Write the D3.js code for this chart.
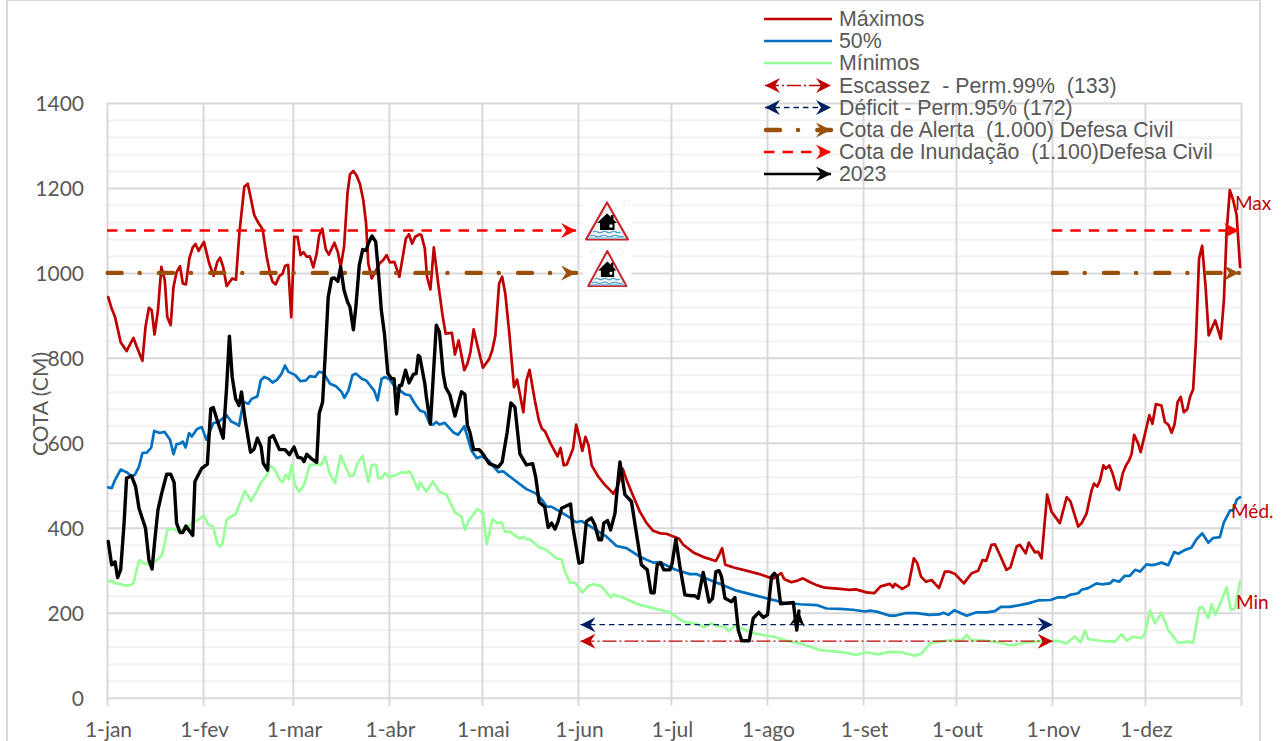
<!DOCTYPE html>
<html><head><meta charset="utf-8">
<script src="https://cdn.jsdelivr.net/npm/d3@7"></script>
<style>html,body{margin:0;padding:0;background:#fff}svg{display:block}</style>
</head><body><svg id="c" width="1281" height="741"></svg>
<script>
const monthLabels=["1-jan","1-fev","1-mar","1-abr","1-mai","1-jun","1-jul","1-ago","1-set","1-out","1-nov","1-dez",""];
const monthStarts=[0,31,60,91,121,152,182,213,244,274,305,335,366];
const majorTicks=[0,200,400,600,800,1000,1200,1400];
const minorTicks=[40,80,120,160,240,280,320,360,440,480,520,560,640,680,720,760,840,880,920,960,1040,1080,1120,1160,1240,1280,1320,1360];

const maxDays=[0.4,1.5,2.6,4.4,6.3,8.5,9.8,11.4,12.4,13.5,14.4,15.3,16.4,17.5,18.6,19.4,20.5,21.4,22.4,23.5,24.4,25.4,26.5,27.6,28.5,29.5,31.2,32.9,34.3,35.5,36.4,37.4,38.5,40.3,41.5,42.6,44.2,45.3,46.2,47.4,48.7,50.1,51.4,52.5,53.3,54.3,55.5,56.5,57.3,58.3,59.3,60.3,61.3,62.3,63.2,64.3,65.3,66.4,67.5,68.3,69.3,70.4,71.4,73.2,74.3,75.2,76.3,77.4,78.2,79.3,80.3,81.4,82.5,83.4,84.1,85.2,86.3,87.7,89,90,91,92.5,94.1,95.2,96.2,97.2,98.2,99.2,100.7,101.2,102.3,103,104.1,105.2,106.6,108,109,111,112,113.2,115,116,117,118,119.6,121,123,124,125,126.2,127.2,128.2,129.5,131,132,134,135,136,137.7,139,140,141,142.8,145,146,147,148,150,151,152,153,154,155,156,158,160,162,163,164.5,166,167.2,169.4,171.5,173.7,175.8,178,180,184,185.5,188.7,192,196,197,198,199,202,206.4,210,214.4,217,218,220.3,222,224,226,228.4,231,236,239,241,244.5,247,249,252,253,253.6,256,258,259.7,260.8,262,263.6,265.4,267.8,269.7,271,273,275.8,278.3,280.4,281.8,283,284.7,285.8,287.4,289.5,290.8,292.8,293.8,295.7,296.7,298.7,299.7,300.8,302.6,304,306.7,308.9,310.1,312.6,313.7,315.3,316.9,317.7,318.7,319.6,320.7,321.5,322.6,323.7,325,325.8,326.9,328,329,329.8,330.6,331.9,332.7,335.5,336.5,337.6,339.4,340.5,341.6,342.7,343.6,344.6,345.6,346.6,347.7,348.6,349.6,350.5,351.5,352.5,353.6,354.6,356.7,358.5,359.5,360.4,361.4,362.5,363.6,364.7];
const maxValues=[943,916,896,837,816,847,822,793,873,918,912,855,912,1014,983,896,877,967,1002,1016,975,973,1034,1060,1068,1052,1073,1022,993,1026,1036,1014,969,987,984,1093,1203,1210,1179,1136,1118,1102,1038,998,979,973,993,998,1016,1019,896,1085,1085,1042,1049,1038,1039,1013,1046,1089,1104,1056,1043,1071,1049,1014,1061,1187,1232,1240,1230,1210,1171,1116,1022,987,1002,1022,1031,1042,1025,1026,991,1038,1081,1091,1069,1085,1091,1089,1057,991,961,1060,975,900,857,859,808,841,771,786,814,867,818,777,797,818,853,975,991,951,857,731,749,672,747,772,700,653,633,627,598,568,588,547,549,586,643,614,581,614,594,547,522,503,488,480,500,539,513,474,438,411,393,387,386,375,360,342,331,322,336,352,313,306,298,291,280,293,279,272,275,281,273,265,259,256,254,255,248,246,262,268,260,268,256,265,328,317,285,273,277,258,297,297,291,269,293,299,324,322,360,361,336,301,307,356,360,340,365,342,344,328,478,438,411,472,462,403,411,434,488,504,497,511,547,539,547,527,493,489,527,547,559,574,619,598,578,665,645,691,688,649,643,624,643,696,708,672,679,708,726,841,1034,1064,967,853,888,845,936,1100,1195,1171,1136,1014];

const medDays=[0.4,1.5,2.6,4.4,6.3,8,9,10.3,11.4,12.8,14.2,15.2,17,18.5,20.3,21.4,22.4,23.5,24.4,25.3,26.4,27.3,28.9,30.5,32,34.2,36,38.5,40,41.5,42.5,43.9,45.5,46.6,48.4,49.5,50.6,52,53.3,54.8,56.2,57.3,58.4,60.5,62.3,64,65.3,67,68.2,69.6,71.8,73.7,75.5,76.4,77.7,79,80.1,82,83.4,84.7,86,87.1,88.4,89.5,91,92.7,96,97.5,99.1,100.7,102.3,104,105,106,107,108.7,111.4,113,115,117.3,119,120.5,122.7,126,127.5,131,135,138,140,141.5,143,145.8,148.4,151,152.7,156.5,160.8,164,167.2,171.5,175.8,178,182.8,187.6,189.7,194,198.3,202.6,208,213.4,217.7,223,228.4,231.6,236,240,244,245.6,248,252,253.6,257,260.6,264.7,267.9,269.2,270.8,272.7,274.5,276.7,279.9,283.1,285.8,287.7,290.6,293.8,296.5,299.7,303.7,305.9,308.3,309.9,312.6,313.7,315.8,318.5,320.1,322.8,323.9,325.8,327.6,329.2,330.9,332.5,334.6,336.2,337.8,339.4,341.6,343.5,344.8,347,349,350.7,352.5,354.5,356,358.2,359.5,361.5,362.5,363.6,364.7];
const medValues=[495,493,513,537,531,521,525,544,576,577,588,628,623,626,607,573,597,598,603,589,623,615,632,637,607,646,650,665,650,645,640,696,692,704,709,747,755,751,742,749,763,782,767,760,745,747,757,755,767,765,739,733,720,706,723,759,763,751,747,735,723,700,751,755,749,731,714,712,692,676,672,643,643,649,643,647,625,619,639,582,564,568,559,531,533,513,491,481,466,450,450,438,427,413,416,399,379,357,352,332,318,319,302,291,291,277,265,252,242,232,224,220,218,210,209,207,203,205,202,193,193,199,199,195,196,200,195,206,200,193,201,201,204,214,214,218,222,229,230,236,236,242,246,254,258,269,267,269,277,273,287,287,301,297,314,312,314,318,312,343,339,348,353,373,387,365,376,378,413,441,441,466,472];

const minDays=[0.4,1.5,2.6,4.2,5.8,7.4,8.5,9.3,10.4,11.5,13.3,14.9,17.6,18.7,19.5,21.4,23,25.5,27.8,29.4,31.2,32.6,34.2,35.5,36.4,37.2,38.5,39.6,41.4,44.4,46.4,48.4,49.8,51.7,52.3,54,55.5,56.5,57.6,58.5,59.4,60.5,61.9,63.4,65.3,67,69,70.2,71.6,73.4,75.2,78.2,79.5,80.6,82.3,84.1,85.2,86.6,87.3,88.4,89.5,90.9,93.2,94.8,96.2,97.5,100.2,100.7,102.8,104.9,107,109.3,112,114.1,115.2,116.3,119.2,121,122.2,124.1,125.6,127,128.1,129.7,132.9,134,135,136.1,139.3,141,144.7,146.3,147.4,149,150.6,153,154.9,156.5,159.2,162.1,163.1,166.1,170.4,175.8,181.2,185.5,189.8,192.1,194.6,196.2,198.9,200,202.1,208,212.3,214.4,218.7,224,229.5,236,241.3,244.5,248.2,252,255.7,260,262.2,264.9,268.1,273.5,275.1,276.7,278,283.1,287.4,290.8,296,301.4,305.7,308.9,311.5,313.4,314.8,315.8,319.6,324.4,326.6,328.2,330.3,333,334.1,335.7,337.3,339.4,341.6,344.8,348,349.6,351.6,352.6,354.5,355.5,356.8,360.4,361.7,363,364.7];
const minValues=[273,275,269,268,264,265,269,293,324,317,314,317,334,368,397,397,391,395,415,419,429,407,403,362,356,364,419,425,432,487,463,489,509,526,547,537,514,507,525,514,548,501,485,501,548,550,548,568,530,505,570,521,525,552,569,507,548,548,517,517,529,519,525,531,529,533,489,507,485,509,485,478,436,426,395,415,444,436,361,420,411,413,391,391,374,379,373,373,353,350,328,326,297,271,271,248,263,267,262,236,242,236,221,211,201,179,174,166,175,169,167,156,170,152,146,144,134,126,112,108,101,107,102,108,107,99,104,128,132,137,134,148,136,134,130,123,130,134,134,128,144,130,158,138,134,132,149,134,144,140,152,206,175,200,159,129,132,129,212,213,187,220,195,260,206,210,273];

const y2023Days=[0.4,1.5,2.6,3.4,4.4,5.5,6.3,7.9,9.2,10.3,12.4,13.5,14.5,15.5,16.4,17.6,19.2,20.5,21.6,22.4,23.5,24.4,25.4,27.6,28.3,30.5,32.3,33.4,34.2,35.3,37.4,38.5,39.4,40.3,41.4,42.5,43.3,44.4,46.2,47.3,48.4,49.6,50.3,51.7,52.3,53.5,55.5,57.3,58.7,60.2,61.4,62.7,63.4,64.3,65.9,67.5,68.3,69.4,70.2,71.2,72.3,73.2,74.3,75.2,76.3,77.4,78.2,79.3,80.1,81.2,82.3,83.4,84.1,85.3,86.5,87.4,88.3,89.3,90.4,91.6,92.4,93.2,94.1,94.8,96.1,97.2,98.6,99.5,100.2,100.7,102.3,102.8,104.1,105,106,107,108.2,109,110.4,112,114.1,115.2,116,116.8,118,119.8,121,123,126,127.2,128.8,130,131.3,132.9,135,137,138,139.1,140.9,142,143.1,144.2,145.2,146.3,149.2,150,151.9,153,154.3,155.9,157,158.3,159.2,159.9,161.1,162.1,163.5,164.5,165.1,166.7,168.8,170.4,172,173.9,175.1,176.1,177.1,178.2,179.2,181.2,181.9,183.1,184.4,186,188.1,189.2,190.3,191.9,193.8,194.9,196,197,197.8,198.9,201,202.1,203.2,204.3,206.7,208,209.8,211.2,212.6,213.9,214.8,215.7,216.8,220.9,222,222.7];
const y2023Values=[368,313,320,283,301,411,517,522,497,446,399,324,303,379,442,481,526,526,507,411,389,389,404,382,509,540,550,680,683,657,611,731,851,755,704,688,720,657,578,585,611,591,552,536,611,617,584,584,572,590,566,564,556,573,562,554,669,696,802,943,987,988,980,1014,959,932,920,866,920,1018,1055,1053,1069,1087,1073,998,912,857,763,751,751,668,735,735,771,741,761,763,806,802,739,708,645,755,877,861,763,731,712,663,720,714,641,625,584,584,574,551,543,555,625,694,684,574,548,551,519,460,449,401,411,397,415,446,456,399,317,319,415,423,407,372,372,411,417,395,434,513,555,478,462,387,313,301,247,247,313,318,301,301,316,373,309,242,240,240,234,295,225,234,297,299,285,234,226,236,159,134,134,187,201,189,195,285,293,285,221,224,159,204];

const legendLabels=["Máximos","50%","Mínimos","Escassez  - Perm.99%  (133)","Déficit - Perm.95% (172)","Cota de Alerta  (1.000) Defesa Civil","Cota de Inundação  (1.100)Defesa Civil","2023"];
const endLabels=["Max","Méd.","Min"];
const endLabelValues=[1148,423,208];
const alertLevel=1000,floodLevel=1100,scarcityLevel=133,deficitLevel=172;

const RED="#C00000",BLUE="#0070C0",GREEN="#99FF99",NAVY="#002060",BROWN="#9A4F0B",FLOOD="#FF0000",GREY="#595959";
const svg=d3.select("#c");
const x=d3.scaleLinear().domain([0,365]).range([107,1241]);
const tickPos=monthStarts.map(d=>d*365/366);
const y=d3.scaleLinear().domain([0,1400]).range([697.7,103]);
const font="Lato, sans-serif";

// outer frame
svg.append("rect").attr("x",7).attr("y",0).attr("width",1253).attr("height",760).attr("fill","#fff").attr("stroke","#D9D9D9").attr("stroke-width",2);

// grid through axes
const plotW=x.range()[1]-x.range()[0],plotH=y.range()[0]-y.range()[1];
const gMinor=svg.append("g").attr("transform",`translate(107,0)`).call(d3.axisLeft(y).tickValues(minorTicks).tickSize(-plotW).tickFormat(""));
gMinor.select(".domain").remove();
gMinor.selectAll("line").attr("stroke","#F2F2F2").attr("stroke-width",2);
const gMajor=svg.append("g").attr("transform",`translate(107,0)`).call(d3.axisLeft(y).tickValues(majorTicks).tickFormat(d3.format("d")).tickSize(-plotW).tickPadding(23));
gMajor.select(".domain").remove();
gMajor.selectAll("line").attr("stroke","#D9D9D9").attr("stroke-width",2);
gMajor.selectAll("text").attr("font-family",font).attr("font-size",21).attr("fill",GREY).attr("dy",".36em");
const gV=svg.append("g").attr("transform",`translate(0,${y(0)})`).call(d3.axisBottom(x).tickValues(tickPos).tickFormat("").tickSize(-plotH));
gV.select(".domain").remove();
gV.selectAll("line").attr("stroke","#D9D9D9").attr("stroke-width",2);
const gX=svg.append("g").attr("transform",`translate(0,${y(0)})`).call(d3.axisBottom(x).tickValues(tickPos).tickFormat((d,i)=>monthLabels[i]).tickSize(8).tickPadding(16));
gX.select(".domain").remove();
gX.selectAll("line").attr("stroke","#D9D9D9").attr("stroke-width",2);
gX.selectAll("text").attr("font-family",font).attr("font-size",21).attr("fill",GREY).attr("dx",1);

svg.append("text").attr("transform","translate(47.5,404) rotate(-90)").attr("text-anchor","middle")
  .attr("font-family",font).attr("font-size",21).attr("fill",GREY).text("COTA (CM)");

// arrow markers
const defs=svg.append("defs");
function marker(id,color,rev){
  defs.append("marker").attr("id",id).attr("markerUnits","userSpaceOnUse").attr("viewBox","-16 -9 32 18")
    .attr("markerWidth",32).attr("markerHeight",18).attr("refX",0).attr("refY",0).attr("orient","auto")
    .append("path").attr("d",rev?"M0,0 L15,-7.5 L10,0 L15,7.5 Z":"M0,0 L-15,-7.5 L-10,0 L-15,7.5 Z").attr("fill",color);
}
[["r",RED],["n",NAVY],["b",BROWN],["f",FLOOD],["k","#000"]].forEach(([k,c])=>{marker("e"+k,c,false);marker("s"+k,c,true);});

// white boxes behind the alert icons
svg.append("rect").attr("x",583).attr("y",198).attr("width",48.5).attr("height",92).attr("fill","#fff");
// faint ghost handles of the pasted pictures
[[598,205,603,200],[589,253,596,248]].forEach(s=>svg.append("line").attr("x1",s[0]).attr("y1",s[1]).attr("x2",s[2]).attr("y2",s[3]).attr("stroke","#F4F4F4").attr("stroke-width",2));
[[627,203],[620,252]].forEach(s=>svg.append("circle").attr("cx",s[0]).attr("cy",s[1]).attr("r",3).attr("fill","none").attr("stroke","#F4F4F4").attr("stroke-width",1.5));

// series
const line=d3.line().x(d=>x(d[0])).y(d=>y(d[1])).curve(d3.curveLinear);
const zip=(a,b)=>a.map((d,i)=>[d,b[i]]);
const plot=(days,vals,color,w)=>svg.append("path").datum(zip(days,vals)).attr("d",line).attr("fill","none")
  .attr("stroke",color).attr("stroke-width",w).attr("stroke-linejoin","round").attr("stroke-linecap","round");
plot(maxDays,maxValues,RED,2.7);
plot(medDays,medValues,BLUE,2.7);
plot(minDays,minValues,GREEN,2.7);

// reference lines; day positions on the same 365-unit scale
const hline=(x0,x1,v,color,w,dash,mS,mE,cap)=>{
  const p=svg.append("path").datum([[x0,v],[x1,v]]).attr("d",line).attr("fill","none").attr("stroke",color)
    .attr("stroke-width",w).attr("stroke-dasharray",dash).attr("stroke-linecap",cap||"butt");
  if(mS)p.attr("marker-start",`url(#${mS})`);
  if(mE)p.attr("marker-end",`url(#${mE})`);
};
hline(152.4,304.4,scarcityLevel,RED,1.3,"14 3 2 3","sr","er");
hline(152.4,304.4,deficitLevel,NAVY,1.4,"5.5 4","sn","en");
const ALERT_DASH="14 18 .1 19.2";
hline(0.2,151,alertLevel,BROWN,4.4,ALERT_DASH,null,"eb","round");
hline(304.4,364.4,alertLevel,BROWN,4.4,ALERT_DASH,null,"eb","round");
const FLOOD_DASH="10.5 8";
hline(0,151,floodLevel,FLOOD,2.5,FLOOD_DASH,null,"ef");
hline(304.1,364.4,floodLevel,FLOOD,2.5,FLOOD_DASH,null,"ef");

// 2023
plot(y2023Days,y2023Values,"#000",3.4).attr("marker-end","url(#ek)");

// end labels
svg.selectAll(".endl").data(endLabels).join("text").attr("class","endl")
  .attr("x",(d,i)=>[1235,1231,1236][i]).attr("y",(d,i)=>y(endLabelValues[i]))
  .attr("font-family",font).attr("font-size",19).attr("fill",RED).text(d=>d);

// alert icons
function icon(cx,top,w,h){
  const g=svg.append("g").attr("transform",`translate(${cx},${top}) scale(${w/44},${h/38})`);
  g.append("path").attr("d","M0,0 L21,37 L-21,37 Z").attr("fill","#F1F3F5").attr("stroke","#C9252D").attr("stroke-width",2.2).attr("stroke-linejoin","round");
  g.append("path").attr("d","M0,11 L4,14.5 L4,12.5 L6.5,12.5 L6.5,17 L10,20.5 L7.5,20.5 L7.5,27.5 L-7,27.5 L-7,20.5 L-10,20.5 Z").attr("fill","#000");
  g.append("rect").attr("x",2.5).attr("y",22).attr("width",3).attr("height",3).attr("fill","#fff");
  g.append("path").attr("d","M-14,29.5 q2.3,-1.6 4.6,0 t4.6,0 t4.6,0 t4.6,0 t4.6,0 t4.6,0").attr("fill","none").attr("stroke","#3C9CCB").attr("stroke-width",1.1);
  g.append("path").attr("d","M-17,33.5 q2.8,-1.6 5.6,0 t5.6,0 t5.6,0 t5.6,0 t5.6,0 t5.6,0").attr("fill","none").attr("stroke","#3C9CCB").attr("stroke-width",1.1);
  g.append("path").attr("d","M-19,35.5 L19,35.5").attr("stroke","#8CC7E3").attr("stroke-width",1.6);
}
icon(607,202.5,44,38);
icon(607.3,251,40,36);

// legend
const lx0=764,lx1=832,rows=[19,41,63,85.5,107.5,130,152,174];
svg.selectAll(".leg").data(legendLabels).join("text").attr("class","leg")
  .attr("x",839).attr("y",(d,i)=>rows[i]+7.3).attr("font-family","Liberation Sans, Arial, sans-serif")
  .attr("font-size",21.35).attr("fill",GREY).style("white-space","pre").text(d=>d);
const lseg=(i,color,w,dash,mS,mE,cap,a=lx0,b=lx1)=>{
  const p=svg.append("line").attr("x1",a).attr("x2",b).attr("y1",rows[i]).attr("y2",rows[i]).attr("stroke",color).attr("stroke-width",w);
  if(dash)p.attr("stroke-dasharray",dash);
  if(cap)p.attr("stroke-linecap",cap);
  if(mS)p.attr("marker-start",`url(#${mS})`);
  if(mE)p.attr("marker-end",`url(#${mE})`);
};
lseg(0,RED,2.7);lseg(1,BLUE,2.7);lseg(2,GREEN,2.7);
lseg(3,RED,1.3,"14 3 2 3","sr","er",null,765,831);
lseg(4,NAVY,1.4,"5.5 4","sn","en",null,765,831);
lseg(5,BROWN,4.4,ALERT_DASH,null,"eb","round",766,831);
lseg(6,FLOOD,2.5,FLOOD_DASH,null,"ef",null,764,831);
lseg(7,"#000",2.7,null,null,"ek",null,764,831);
</script></body></html>
